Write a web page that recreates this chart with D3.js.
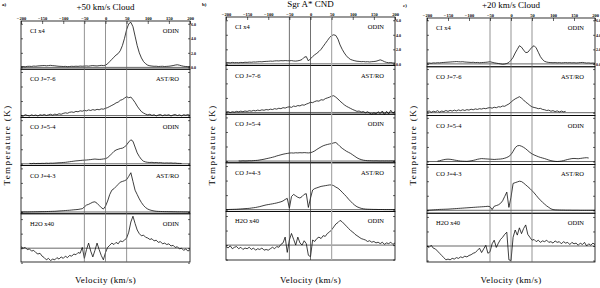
<!DOCTYPE html>
<html>
<head>
<meta charset="utf-8">
<script src="https://cdn.jsdelivr.net/npm/d3@7"></script>
<style>
body { margin: 0; background: #fff; }
svg { display: block; }
text { font-family: "Liberation Serif", "DejaVu Serif", serif; fill: #000; }
</style>
</head>
<body>
<script>
// velocity grid (km/s), shared by every spectrum
const velocity = [-200,-195,-190,-185,-180,-175,-170,-165,-160,-155,
  -150,-145,-140,-135,-130,-125,-120,-115,-110,-105,
  -100,-95,-90,-85,-80,-75,-70,-65,-60,-55,
  -50,-45,-40,-35,-30,-25,-20,-15,-10,-5,
  0,5,10,15,20,25,30,35,40,45,
  50,55,60,65,70,75,80,85,90,95,
  100,105,110,115,120,125,130,135,140,145,
  150,155,160,165,170,175,180,185,190,195,200];

const lines = ['CI  x4', 'CO J=7-6', 'CO J=5-4', 'CO J=4-3', 'H2O x40'];
const telescopes = ['ODIN', 'AST/RO', 'ODIN', 'AST/RO', 'ODIN'];
const titles = ['+50 km/s Cloud', 'Sgr A* CND', '+20 km/s Cloud'];
const letters = ['a)', 'b)', 'c)'];
const velTicks = [-200, -150, -100, -50, 0, 50, 100, 150, 200];
const tempTicks = [0, 2, 4, 6];
const h2oTicks = [-2, 0, 2, 4];
const markVel = [-50, 0, 50];

// +50 km/s cloud
const aCI = [0.10,0.12,0.08,0.14,0.15,0.13,0.18,0.16,0.20,0.22,
  0.24,0.26,0.22,0.25,0.28,0.24,0.22,0.18,0.15,0.14,
  0.12,0.14,0.10,0.12,0.15,0.13,0.16,0.14,0.18,0.16,
  0.18,0.20,0.17,0.22,0.25,0.22,0.20,0.24,0.28,0.25,
  0.30,0.50,0.80,1.10,1.40,1.70,1.90,2.30,3.00,4.00,
  5.20,6.00,6.20,5.60,4.30,3.00,2.00,1.30,0.80,0.50,
  0.30,0.22,0.18,0.15,0.16,0.12,0.14,0.15,0.12,0.14,
  0.16,0.20,0.25,0.32,0.36,0.30,0.22,0.15,0.12,0.10,0.12];
const aCO76 = [0.05,-0.08,0.12,0.02,-0.05,0.10,0.00,0.08,-0.06,0.12,
  0.04,0.15,0.02,0.10,0.18,0.06,0.20,0.12,0.25,0.18,
  0.30,0.38,0.32,0.45,0.50,0.44,0.58,0.52,0.66,0.60,
  0.72,0.65,0.78,0.70,0.82,0.74,0.86,0.80,0.92,0.88,
  1.00,1.10,1.25,1.40,1.55,1.75,1.85,2.10,2.20,2.40,
  2.60,2.45,2.55,2.20,1.80,1.30,0.90,0.55,0.35,0.20,
  0.10,0.18,0.02,0.12,-0.05,0.08,0.15,-0.02,0.10,0.04,
  0.12,-0.06,0.08,0.15,0.00,0.10,-0.04,0.12,0.05,0.14,0.02];
const aCO54 = [null,null,null,null,0.05,0.02,0.06,0.03,0.05,0.04,
  0.06,0.05,0.08,0.06,0.09,0.08,0.10,0.12,0.14,0.15,
  0.18,0.20,0.24,0.28,0.32,0.36,0.40,0.42,0.45,0.48,
  0.50,0.52,0.55,0.58,0.62,0.65,0.62,0.60,0.62,0.66,
  0.70,0.85,1.10,1.40,1.70,1.90,2.00,2.10,2.15,2.30,
  2.60,3.00,3.30,3.10,2.30,1.50,1.00,0.60,0.35,0.25,
  0.20,0.18,0.20,0.15,0.18,0.14,0.16,0.12,0.10,0.12,
  0.10,0.12,0.08,0.10,0.06,0.05,0.04,null,null,null,null];
const aCO43 = [0.00,0.00,0.01,0.00,0.01,0.02,0.02,0.03,0.03,0.04,
  0.05,0.05,0.06,0.07,0.08,0.09,0.10,0.12,0.14,0.16,
  0.18,0.20,0.22,0.24,0.27,0.30,0.32,0.35,0.40,0.45,
  0.70,0.95,1.05,1.20,1.35,1.40,1.20,0.90,0.60,0.40,
  0.80,1.50,2.40,3.00,3.20,3.50,3.80,4.10,4.20,4.30,
  4.45,4.90,5.40,4.20,3.00,2.40,1.80,1.30,0.90,0.60,
  0.40,0.28,0.20,0.14,0.10,0.08,0.07,0.06,0.05,0.05,
  0.04,0.04,0.03,0.03,0.02,0.02,0.02,0.01,0.01,0.00,0.00];
const aH2O = [0.2,0.0,0.1,-0.2,-0.1,-0.4,-0.3,-0.6,-0.8,-0.7,
  -1.1,-1.3,-1.6,-1.4,-1.7,-1.5,-1.6,-1.3,-1.5,-1.2,
  -1.4,-1.1,-1.3,-1.0,-1.1,-0.8,-0.9,-0.6,-0.7,0.1,
  -1.4,-0.2,0.7,-0.4,-1.2,-0.3,0.7,-0.2,-1.0,-1.6,
  -0.6,0.1,0.4,0.7,0.5,0.8,0.6,1.0,0.9,1.1,
  1.4,2.2,3.6,4.4,3.4,2.5,2.0,1.7,1.8,1.5,
  1.4,1.2,1.3,1.0,1.1,0.8,0.9,0.6,0.7,0.5,
  0.6,0.3,0.4,0.1,0.2,-0.1,0.0,-0.3,-0.1,-0.4,-0.2];

// Sgr A* CND
const bCI = [0.15,0.18,0.14,0.20,0.16,0.18,0.15,0.20,0.17,0.22,
  0.20,0.24,0.22,0.26,0.25,0.28,0.30,0.28,0.32,0.34,
  0.35,0.38,0.36,0.40,0.42,0.40,0.44,0.42,0.45,0.43,
  0.42,0.45,0.40,0.38,0.42,0.48,0.60,0.90,1.00,0.40,
  0.70,1.00,1.25,1.45,1.70,2.00,2.40,2.80,3.20,3.60,
  3.90,4.00,3.90,3.40,2.60,2.00,1.50,1.10,0.80,0.60,
  0.50,0.42,0.36,0.34,0.30,0.32,0.28,0.30,0.26,0.30,
  0.32,0.36,0.45,0.55,0.45,0.30,0.20,0.15,0.18,0.12,0.10];
const bCO76 = [0.05,0.12,-0.02,0.10,0.04,0.15,0.08,0.18,0.10,0.20,
  0.14,0.24,0.18,0.28,0.22,0.32,0.26,0.36,0.30,0.40,
  0.35,0.45,0.40,0.52,0.46,0.58,0.52,0.66,0.60,0.72,
  0.78,0.70,0.88,0.82,0.95,0.90,1.05,1.00,1.15,1.25,
  1.40,1.35,1.50,1.60,1.55,1.75,1.70,1.90,2.00,2.10,
  2.25,2.30,2.10,1.85,1.55,1.30,1.05,0.85,0.70,0.55,
  0.40,0.28,0.15,0.20,0.05,0.12,-0.05,0.10,-0.10,-0.25,
  -0.05,-0.20,0.10,-0.15,0.20,-0.30,0.15,-0.20,0.30,-0.10,0.15];
const bCO54 = [null,null,null,null,null,null,0.02,0.00,0.03,0.01,
  0.02,0.04,0.03,0.06,0.08,0.10,0.15,0.20,0.25,0.32,
  0.38,0.45,0.52,0.60,0.70,0.78,0.86,0.94,1.00,1.05,
  1.10,1.12,1.10,1.14,1.12,1.15,1.13,1.16,1.14,1.12,
  1.15,1.25,1.40,1.60,1.78,1.95,2.10,2.20,2.28,2.35,
  2.40,2.50,2.55,2.30,2.00,1.75,1.55,1.35,1.20,1.05,
  0.85,0.65,0.45,0.30,0.20,0.12,0.08,0.05,0.04,0.03,
  0.02,0.03,0.02,0.01,0.02,0.01,0.02,0.01,0.02,0.01,0.02];
const bCO43 = [0.00,0.02,0.03,0.04,0.05,0.06,0.08,0.10,0.12,0.14,
  0.16,0.18,0.22,0.26,0.30,0.36,0.42,0.50,0.58,0.65,
  0.70,0.75,0.80,0.86,0.92,1.00,1.08,1.20,1.40,1.55,
  0.20,1.80,2.10,1.90,1.70,1.60,1.80,2.10,2.20,0.30,
  1.60,2.70,2.90,3.00,3.10,3.20,3.25,3.30,3.35,3.40,
  3.40,3.30,3.10,2.95,2.70,2.40,2.10,1.80,1.45,1.15,
  0.85,0.60,0.40,0.28,0.18,0.12,0.08,0.06,0.05,0.04,
  0.03,0.03,0.02,0.02,0.02,0.01,0.01,0.01,0.00,0.00,0.00];
const bH2O = [-0.2,-0.4,-0.1,-0.5,-0.3,-0.2,-0.5,-0.3,-0.6,-0.4,
  -0.5,-0.3,-0.6,-0.4,-0.7,-0.5,-0.6,-0.4,-0.7,-0.6,
  -0.7,-0.5,-0.3,-0.5,-0.2,-0.3,0.1,0.3,1.1,-1.0,
  0.7,1.6,0.8,0.0,1.1,0.3,0.0,0.6,0.2,-1.4,
  -1.6,0.7,0.5,0.9,1.1,0.9,1.3,1.2,1.6,1.8,
  2.1,2.5,2.9,3.1,3.4,3.2,2.9,2.6,2.3,2.0,
  1.8,1.5,1.3,1.1,0.9,0.8,0.7,0.5,0.6,0.4,
  0.5,0.3,0.4,0.2,0.4,0.1,0.3,0.2,0.4,0.1,0.3];

// +20 km/s cloud
const cCI = [0.10,0.12,0.08,0.14,0.12,0.16,0.14,0.18,0.20,0.22,
  0.24,0.26,0.28,0.30,0.32,0.30,0.28,0.30,0.26,0.24,
  0.22,0.20,0.22,0.18,0.20,0.16,0.18,0.20,0.22,0.25,
  0.30,0.22,0.15,0.10,0.05,0.00,-0.05,-0.02,0.05,0.20,
  0.50,0.90,1.50,2.00,2.50,2.30,1.90,1.55,1.60,1.95,
  2.30,2.50,2.20,1.60,1.00,0.60,0.35,0.25,0.20,0.18,
  0.16,0.18,0.15,0.17,0.14,0.16,0.18,0.15,0.17,0.14,
  0.16,0.13,0.15,0.18,0.20,0.16,0.12,0.14,0.10,0.12,0.08];
const cCO76 = [0.10,0.25,0.05,0.20,0.12,0.28,0.08,0.22,0.15,0.30,
  0.18,0.32,0.22,0.35,0.25,0.38,0.28,0.40,0.30,0.42,
  0.35,0.48,0.40,0.52,0.45,0.55,0.50,0.60,0.55,0.65,
  0.70,0.62,0.75,0.68,0.82,0.78,0.92,0.88,1.05,1.20,
  1.45,1.70,1.90,2.05,2.20,2.00,1.75,1.45,1.25,1.00,
  0.80,0.72,0.65,0.55,0.60,0.45,0.40,0.30,0.35,0.20,
  0.28,0.15,0.25,0.10,0.22,0.12,0.18,null,null,null,
  null,null,null,null,null,null,null,null,null,null,null];
const cCO54 = [null,null,null,null,null,0.05,0.10,0.18,0.25,0.30,
  0.32,0.30,0.26,0.20,0.15,0.10,0.06,0.04,0.03,0.02,
  0.05,0.10,0.15,0.22,0.30,0.36,0.40,0.38,0.36,0.34,
  0.32,0.30,0.28,0.30,0.32,0.34,0.38,0.45,0.55,0.70,
  0.95,1.40,1.90,2.15,2.20,2.10,1.95,1.75,1.50,1.25,
  1.05,0.90,0.78,0.66,0.56,0.48,0.40,0.30,0.20,0.12,
  0.06,0.02,0.00,0.02,0.06,0.12,0.20,0.28,0.34,0.40,
  0.42,0.40,0.38,0.42,0.46,0.50,0.52,0.48,null,null,null];
const cCO43 = [0.00,0.02,0.04,0.06,0.08,0.10,0.12,0.13,0.14,0.15,
  0.16,0.18,0.20,0.22,0.24,0.26,0.28,0.30,0.32,0.34,
  0.36,0.38,0.40,0.42,0.44,0.46,0.48,0.50,0.52,0.55,
  0.50,0.10,0.55,0.65,0.75,0.95,1.30,1.90,2.50,0.40,
  1.80,3.70,3.80,3.90,4.00,3.95,3.75,3.50,3.25,3.00,
  2.70,2.40,2.05,1.70,1.40,1.10,0.85,0.60,0.40,0.20,
  0.10,0.06,0.05,0.04,0.03,0.03,0.02,0.02,0.02,0.01,
  0.01,0.01,0.01,0.00,0.00,0.00,0.00,0.00,0.00,0.00,0.00];
const cH2O = [0.0,-0.2,0.1,-0.3,-0.4,-0.7,-1.0,-1.3,-1.6,-1.9,
  -1.8,-1.9,-1.7,-1.8,-1.6,-1.7,-1.5,-1.6,-1.4,-1.5,
  -1.3,-1.2,-1.0,-0.9,-0.6,-0.3,-0.9,-0.4,0.1,-1.0,
  -0.8,0.3,0.8,-0.2,0.4,0.9,1.2,1.6,1.9,-1.9,
  -2.0,1.2,2.2,1.5,2.5,1.7,2.4,2.9,1.6,1.2,
  0.8,0.9,0.6,0.8,0.5,0.7,0.6,0.8,0.5,0.6,
  0.4,0.7,0.5,0.6,0.3,0.6,0.4,0.5,0.2,0.5,
  0.3,0.4,0.1,0.4,0.2,0.5,0.0,0.3,0.1,0.4,0.2];

const spectra = [
  [aCI, aCO76, aCO54, aCO43, aH2O],
  [bCI, bCO76, bCO54, bCO43, bH2O],
  [cCI, cCO76, cCO54, cCO43, cH2O]
];

// page layout of the three panels
const panels = [
  { x0: 21, x1: 190, top: 21, bottom: 262, lo: -0.25, loH2O: -1.9, titleY: 10, letterX: 2, letterY: 6, markColor: ['#666', '#666', '#666'] },
  { x0: 226, x1: 395, top: 17, bottom: 260, lo: -0.24, loH2O: -2.05, titleY: 7, letterX: 202, letterY: 6, markColor: ['#333', '#333', '#aaa'] },
  { x0: 427, x1: 595, top: 18, bottom: 262, lo: -0.4, loH2O: -2.2, titleY: 8, letterX: 403, letterY: 7, markColor: ['#666', '#666', '#666'] }
];
const pxPerK = 7.27;

const svg = d3.select('body').append('svg')
  .attr('width', 600)
  .attr('height', 288);

panels.forEach((p, pi) => {
  const g = svg.append('g');
  const x = d3.scaleLinear().domain([-200, 200]).range([p.x0, p.x1]);
  const rowH = (p.bottom - p.top) / 5;

  g.append('text')
    .attr('x', x(0)).attr('y', p.titleY)
    .attr('text-anchor', 'middle')
    .attr('font-size', 9)
    .text(titles[pi]);
  g.append('text')
    .attr('x', p.letterX).attr('y', p.letterY)
    .attr('font-size', 5).attr('font-weight', 'bold')
    .text(letters[pi]);

  g.append('text')
    .attr('transform', 'translate(' + (p.x0 - 14) + ',145) rotate(-90)')
    .attr('text-anchor', 'middle')
    .attr('dominant-baseline', 'central')
    .attr('font-size', 9)
    .attr('letter-spacing', 1.4)
    .text('Temperature (K)');
  g.append('text')
    .attr('x', x(0)).attr('y', 283)
    .attr('text-anchor', 'middle')
    .attr('font-size', 9)
    .attr('letter-spacing', 0.35)
    .text('Velocity (km/s)');

  spectra[pi].forEach((vals, k) => {
    const t = p.top + k * rowH;
    const b = t + rowH;
    const lo = k < 4 ? p.lo : p.loH2O;
    const y = d3.scaleLinear().domain([lo, lo + rowH / pxPerK]).range([b, t]);
    const ticks = k < 4 ? tempTicks : h2oTicks;

    g.append('rect')
      .attr('x', p.x0).attr('y', t)
      .attr('width', p.x1 - p.x0).attr('height', rowH)
      .attr('fill', 'none').attr('stroke', '#000').attr('stroke-width', 0.8);

    g.append('line')
      .attr('x1', p.x0).attr('x2', p.x1)
      .attr('y1', y(0)).attr('y2', y(0))
      .attr('stroke', '#000').attr('stroke-width', 0.6);

    g.append('g')
      .attr('transform', 'translate(' + p.x0 + ',0)')
      .call(d3.axisLeft(y).tickValues(ticks).tickSizeInner(-2).tickSizeOuter(0).tickFormat(''))
      .call(a => a.select('.domain').remove())
      .call(a => a.selectAll('line').attr('stroke-width', 0.6));

    const right = d3.axisRight(y).tickValues(ticks).tickSizeInner(-2).tickSizeOuter(0).tickPadding(1);
    if (k > 0) right.tickFormat('');
    g.append('g')
      .attr('transform', 'translate(' + p.x1 + ',0)')
      .call(right)
      .call(a => a.select('.domain').remove())
      .call(a => a.selectAll('line').attr('stroke-width', 0.6))
      .call(a => a.selectAll('text').attr('font-size', 4).attr('font-weight', 'bold')
        .style('font-family', '"Liberation Serif", serif'));

    const line = d3.line()
      .defined(d => d[1] !== null)
      .x(d => x(d[0]))
      .y(d => y(d[1]));
    g.append('path')
      .datum(velocity.map((v, i) => [v, vals[i]]))
      .attr('d', line)
      .attr('fill', 'none')
      .attr('stroke', '#000')
      .attr('stroke-width', 0.75)
      .attr('stroke-linejoin', 'round');

    g.append('text')
      .attr('x', p.x0 + 9).attr('y', t + 12)
      .attr('font-size', 6.5)
      .text(lines[k]);
    g.append('text')
      .attr('x', p.x1 - 11).attr('y', t + 12)
      .attr('text-anchor', 'end')
      .attr('font-size', 6.5)
      .text(telescopes[k]);
  });

  markVel.forEach((v, i) => {
    g.append('line')
      .attr('x1', x(v)).attr('x2', x(v))
      .attr('y1', p.top).attr('y2', p.bottom)
      .attr('stroke', p.markColor[i])
      .attr('stroke-width', p.markColor[i] === '#aaa' ? 1.2 : 0.7);
  });

  g.append('g')
    .attr('transform', 'translate(0,' + p.top + ')')
    .call(d3.axisTop(x).tickValues(velTicks).tickSizeInner(-3).tickSizeOuter(0).tickPadding(1.5))
    .call(a => a.select('.domain').remove())
    .call(a => a.selectAll('line').attr('stroke-width', 0.6))
    .call(a => a.selectAll('text').attr('font-size', 4.5).attr('font-weight', 'bold')
      .style('font-family', '"Liberation Serif", serif'));
});
</script>
</body>
</html>
